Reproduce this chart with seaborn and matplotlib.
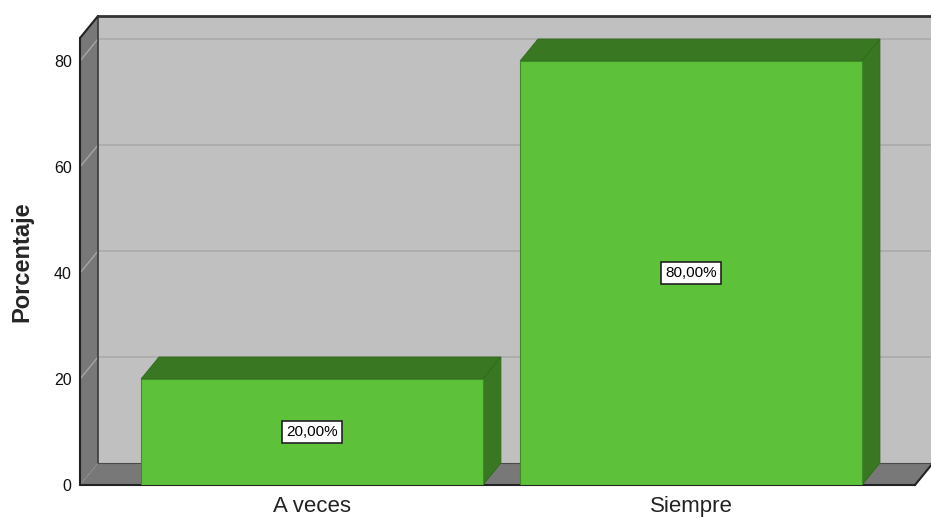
import numpy as np
import matplotlib
matplotlib.use("Agg")
import matplotlib.pyplot as plt
from matplotlib.patches import Polygon
from matplotlib.lines import Line2D
from matplotlib.transforms import IdentityTransform
import seaborn as sns

sns.set_style("white")
plt.rcParams["font.family"] = ["Liberation Sans", "DejaVu Sans"]

# data
categories = ["A veces", "Siempre"]
percentages = [20.0, 80.0]
y_ticks = [0, 20, 40, 60, 80]

FRONT = "#5dc23a"
DARK = "#3a7723"
WALL = "#c0c0c0"
SIDE = "#787878"
GRID = "#a6a6a6"
DX, DY = 18, 22  # depth offset in pixels

fig = plt.figure(figsize=(9.31, 5.18), dpi=100)
ax = fig.add_axes([80 / 931, 33 / 518, 835 / 931, 447 / 518])
ax.set_facecolor("none")
ax.set_zorder(10)  # front faces + labels above the figure-level 3D pieces

sns.barplot(x=categories, y=percentages, color=FRONT, saturation=1,
            width=0.902, ax=ax, zorder=5, edgecolor="#3f8a28", linewidth=0.8)

ax.set_xlim(-0.612, 1.591)
ax.set_ylim(0, 84.34)
ax.set_yticks(y_ticks)
ax.set_yticklabels([str(t) for t in y_ticks], fontsize=11.5, color="#111111")
ax.tick_params(axis="y", length=0, pad=6)
ax.tick_params(axis="x", length=0, pad=8, labelsize=16, labelcolor="#222222")
ax.set_xlabel("")
ax.set_ylabel("Porcentaje", fontsize=17, fontweight="bold", labelpad=15)
for s in ax.spines.values():
    s.set_visible(False)
ax.grid(False)

ident = IdentityTransform()
to_disp = ax.transAxes.transform
(x0, y0), (x1, y1) = to_disp((0, 0)), to_disp((1, 1))


def poly(pts, fc, z, ec="none", lw=0):
    fig.add_artist(Polygon(pts, closed=True, facecolor=fc, edgecolor=ec,
                           linewidth=lw, transform=ident, zorder=z, clip_on=False))


def line(xs, ys, c, lw, z):
    fig.add_artist(Line2D(xs, ys, color=c, linewidth=lw, transform=ident,
                          zorder=z, clip_on=False))


# walls
poly([(x0 + DX, y0 + DY), (x1 + DX + 20, y0 + DY), (x1 + DX + 20, y1 + DY), (x0 + DX, y1 + DY)], WALL, 0.5)
poly([(x0, y0), (x0, y1), (x0 + DX, y1 + DY), (x0 + DX, y0 + DY)], SIDE, 0.6)
poly([(x0, y0), (x1, y0), (x1 + DX, y0 + DY), (x0 + DX, y0 + DY)], SIDE, 0.6)

# gridlines
for t in y_ticks[1:]:
    _, py = ax.transData.transform((0, t))
    line([x0, x0 + DX, x1 + DX + 20], [py, py + DY, py + DY], GRID, 1.0, 0.8)

# frame edges
line([x0 + DX, x0 + DX], [y0 + DY, y1 + DY], "#3a3a3a", 1.2, 0.9)
line([x0 + DX, x1 + DX + 20], [y0 + DY, y0 + DY], "#4a4a4a", 0.8, 0.9)
line([x0, x0], [y0, y1], "#222222", 1.5, 1)
line([x0, x0 + DX], [y1, y1 + DY], "#222222", 1.5, 1)
line([x0 + DX, x1 + DX + 20], [y1 + DY, y1 + DY], "#333333", 2.0, 1)
line([x0, x1], [y0, y0], "#222222", 1.5, 1)
line([x1, x1 + DX], [y0, y0 + DY], "#222222", 1.5, 1)

# 3D bar faces and labels
for patch, val in zip(ax.patches, percentages):
    bx0 = patch.get_x()
    bx1 = bx0 + patch.get_width()
    (px0, pb), (px1, pt) = ax.transData.transform([(bx0, 0), (bx1, val)])
    poly([(px0, pt), (px1, pt), (px1 + DX, pt + DY), (px0 + DX, pt + DY)], DARK, 4, ec="#2f6a1c", lw=0.6)
    poly([(px1, pb), (px1, pt), (px1 + DX, pt + DY), (px1 + DX, pb + DY)], DARK, 4, ec="#2f6a1c", lw=0.6)
    ax.text(bx0 + patch.get_width() / 2, val / 2, f"{val:.2f}%".replace(".", ","),
            ha="center", va="center", fontsize=11, color="black", zorder=6,
            bbox=dict(boxstyle="square,pad=0.25", facecolor="white", edgecolor="#222222", linewidth=1.2))

fig.savefig("out.png", dpi=100)
